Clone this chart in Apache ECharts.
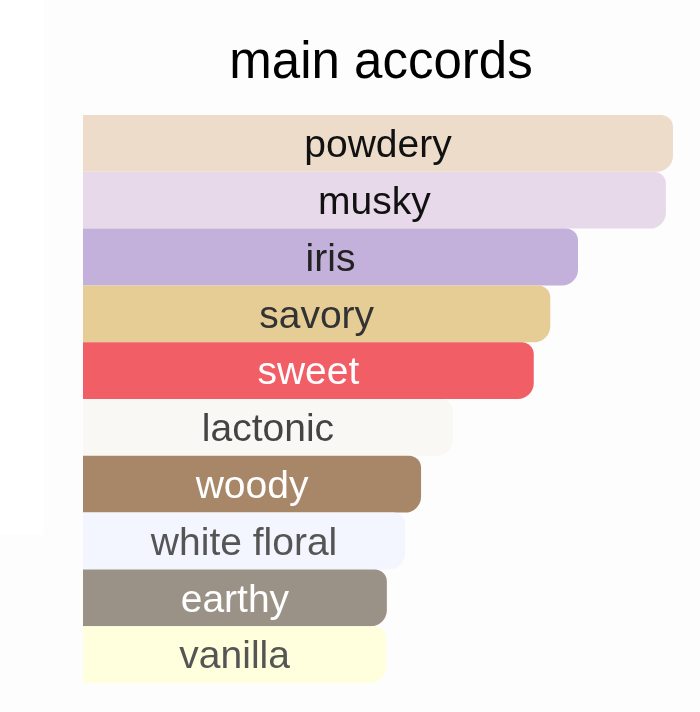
<!DOCTYPE html>
<html>
<head>
<meta charset="utf-8">
<script src="https://cdn.jsdelivr.net/npm/echarts@6/dist/echarts.min.js"></script>
<style>
	html, body { margin: 0; padding: 0; background: #fdfdfd; }
	#chart { width: 700px; height: 712px; }
</style>
</head>
<body>
<div id="chart"></div>
<script>
ACCORDS = ['powdery', 'musky', 'iris', 'savory', 'sweet', 'lactonic', 'woody', 'white floral', 'earthy', 'vanilla'];
STRENGTH = [100, 98.8, 83.9, 79.2, 76.4, 62.7, 57.3, 54.6, 51.5, 51.4];

BAR_COLORS = ['#eedccb', '#e8d9ea', '#c3b0db', '#e6cd96', '#f25e66', '#faf8f4', '#a88768', '#f3f6fe', '#9b9287', '#fffedd'];
TEXT_COLORS = ['#111', '#111', '#222', '#333', '#fff', '#444', '#fff', '#555', '#fff', '#555'];

var myChart = echarts.init(document.getElementById('chart'));

var option = {
	animation: false,
	// the page has a faint white strip down the left side
	graphic: [{
		type: 'rect',
		left: 0, top: 0,
		shape: { width: 44, height: 535 },
		style: { fill: '#fff' },
		z: -1
	}],
	title: {
		text: 'main accords',
		left: 376,
		top: 33,
		textAlign: 'center',
		textStyle: { fontFamily: 'Liberation Sans', fontSize: 51, fontWeight: 'normal', color: '#000' }
	},
	grid: { left: 83, right: 27, top: 115, bottom: 29 },
	xAxis: { type: 'value', min: 0, max: 100, show: false },
	yAxis: { type: 'category', data: ACCORDS, inverse: true, show: false },
	series: [{
		type: 'bar',
		barCategoryGap: 0,
		data: STRENGTH.map(function(v, i) {
			return {
				value: v,
				itemStyle: { color: BAR_COLORS[i], borderRadius: [0, 12, 16, 0] },
				label: { color: TEXT_COLORS[i] }
			};
		}),
		label: {
			show: true,
			position: 'inside',
			offset: [0, 3],
			formatter: function(p) { return p.name; },
			fontFamily: 'Liberation Sans',
			fontSize: 39
		}
	}]
};

myChart.setOption(option);
</script>
</body>
</html>
